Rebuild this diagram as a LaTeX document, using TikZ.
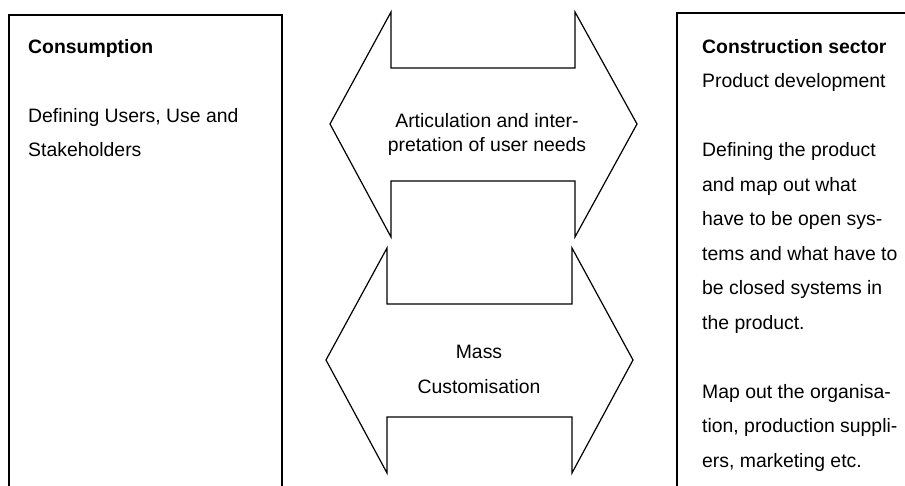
\documentclass[tikz,border=0pt]{standalone}
\usepackage{fontspec}
\setmainfont{Liberation Sans}
\usetikzlibrary{positioning,calc}

\begin{document}
\begin{tikzpicture}[x=1pt,y=-1pt,
  box/.style={draw,line width=1.5pt},
  way/.style={draw,line width=1.2pt,line join=miter},
  side text/.style={anchor=base west,inner sep=0pt,align=left,
    font=\fontsize{19.4}{34.5}\selectfont},
  mid text/.style={anchor=base,inner sep=0pt,align=center,
    font=\fontsize{19.4}{24}\selectfont}]

  \useasboundingbox (0,0) rectangle (905,486);
  \clip (0,0) rectangle (905,486);

  % the two frames run on past the lower edge
  \draw[box] (9,500) -- (9,15) -- (282,15) -- (282,500);
  \draw[box] (677,500) -- (677,13) -- (920,13);

  % double arrows between the frames
  \draw[way] (330,124) -- (391,12) -- (391,68) -- (575,68) -- (575,12) -- (637,124)
    -- (575,237) -- (575,181) -- (391,181) -- (391,237) -- cycle;
  \draw[way] (326,360) -- (387,248) -- (387,304) -- (572,304) -- (572,248) -- (633,360)
    -- (572,473) -- (572,417) -- (387,417) -- (387,473) -- cycle;

  % base anchors sit on the last line of each block
  \node[side text] (cons) at (28,157)
    {\textbf{Consumption}\\[34.5pt]Defining Users, Use and\\Stakeholders};
  \node[side text] (sector) at (702,467)
    {\textbf{Construction sector}\\Product development\\[34.5pt]%
     Defining the product\\and map out what\\have to be open sys-\\%
     tems and what have to\\be closed systems in\\the product.\\[34.5pt]%
     Map out the organisa-\\tion, production suppli-\\ers, marketing etc.};

  \node[mid text] (needs) at (487,152)
    {Articulation and inter-\\pretation of user needs};
  \node[mid text,font=\fontsize{19.4}{35}\selectfont] (mass) at (479,393)
    {Mass\\Customisation};
\end{tikzpicture}
\end{document}
